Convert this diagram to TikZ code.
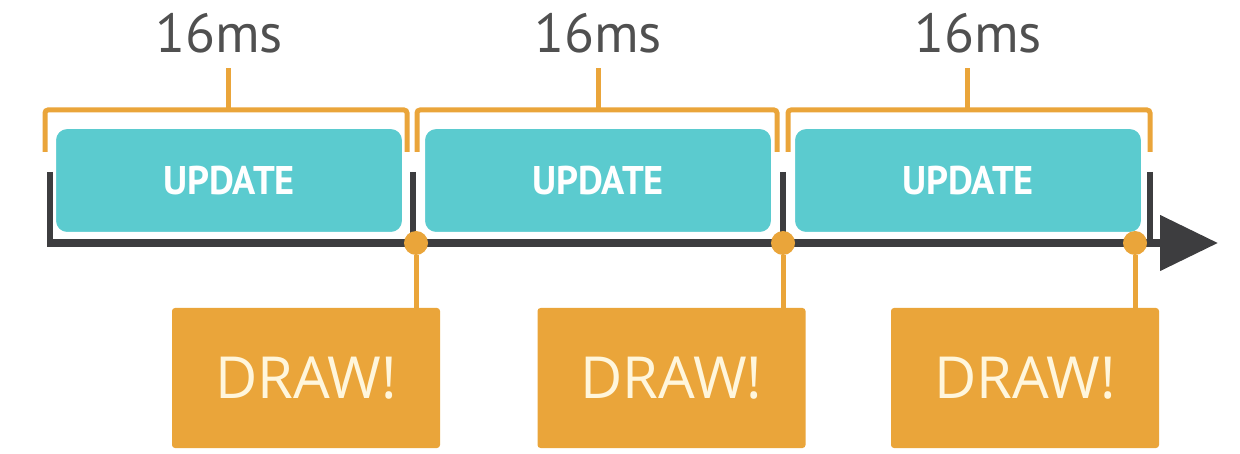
\documentclass[tikz,border=0pt]{standalone}
\usepackage{fontspec}
\usepackage{tikz}
\usetikzlibrary{arrows.meta,positioning,calc}
\newfontfamily\labfont{PT Sans}
\newfontfamily\updfont[FakeStretch=0.96]{PT Sans}
\newfontfamily\drawfont{Open Sans}
\definecolor{tealbox}{HTML}{5BCBCF}
\definecolor{orangebox}{HTML}{EAA53A}
\definecolor{darkline}{HTML}{3D3D3F}
\definecolor{graytext}{HTML}{505050}
\definecolor{creamtext}{HTML}{FFF6DC}

\begin{document}
\begin{tikzpicture}[x=1pt, y=-1pt, >=Stealth,
    update/.style={fill=tealbox, draw=white, line width=2pt, rounded corners=12pt,
      minimum width=348pt, minimum height=105pt, inner sep=0pt,
      text=white, font=\updfont\bfseries\fontsize{40}{40}\selectfont},
    drawbox/.style={fill=orangebox, rounded corners=3pt, minimum width=268pt,
      minimum height=140pt, inner sep=0pt, text=creamtext,
      font=\drawfont\fontsize{58}{58}\selectfont},
    frame/.style={text=graytext, font=\labfont\fontsize{55}{55}\selectfont},
    dot/.style={circle, fill=orangebox, minimum size=24pt, inner sep=0pt},
    brace/.style={draw=orangebox, line width=5pt, rounded corners=3pt},
    tick/.style={draw=darkline, line width=6pt}]
  \useasboundingbox (0,0) rectangle (1240,454);

  % Define nodes
  \node[update] (u1) at (229,180.5) {UPDATE};
  \node[update] (u2) at (598,180.5) {UPDATE};
  \node[update] (u3) at (968,180.5) {UPDATE};

  \node[frame] (l1) at (219,33) {16ms};
  \node[frame] (l2) at (598,33) {16ms};
  \node[frame] (l3) at (978,33) {16ms};

  \node[drawbox] (d1) at (306,378) {DRAW!};
  \node[drawbox] (d2) at (671.5,378) {DRAW!};
  \node[drawbox] (d3) at (1025,378) {DRAW!};

  \coordinate (t0) at (50,172);
  \coordinate (t1) at (50,243);
  \coordinate (tend) at (1218,243);

  % Draw time line
  \draw[tick] (t0) -- (t1);
  \draw[tick, line width=8pt, -{Triangle[length=58pt,width=54pt]}]
    ([xshift=-3pt]t1) -- (tend);
  \draw[tick] (413,172) -- (413,243);
  \draw[tick] (783,172) -- (783,243);
  \draw[tick] (1150,172) -- (1150,243);

  % Frame brackets
  \draw[brace] (45,152) -- (45,110) -- (407,110) -- (407,152);
  \draw[brace] (417,152) -- (417,110) -- (777,110) -- (777,152);
  \draw[brace] (788,152) -- (788,110) -- (1150,110) -- (1150,152);
  \draw[brace, rounded corners=0pt] (228,110) -- (228,68);
  \draw[brace, rounded corners=0pt] (598,110) -- (598,68);
  \draw[brace, rounded corners=0pt] (967,110) -- (967,68);

  % Draw calls
  \node[dot] (p1) at (416,243) {};
  \node[dot] (p2) at (783,243) {};
  \node[dot] (p3) at (1135,243) {};
  \draw[orangebox, line width=5pt] (p1) -- (p1 |- d1.north);
  \draw[orangebox, line width=5pt] (p2) -- (p2 |- d2.north);
  \draw[orangebox, line width=5pt] (p3) -- (p3 |- d3.north);
\end{tikzpicture}
\end{document}
